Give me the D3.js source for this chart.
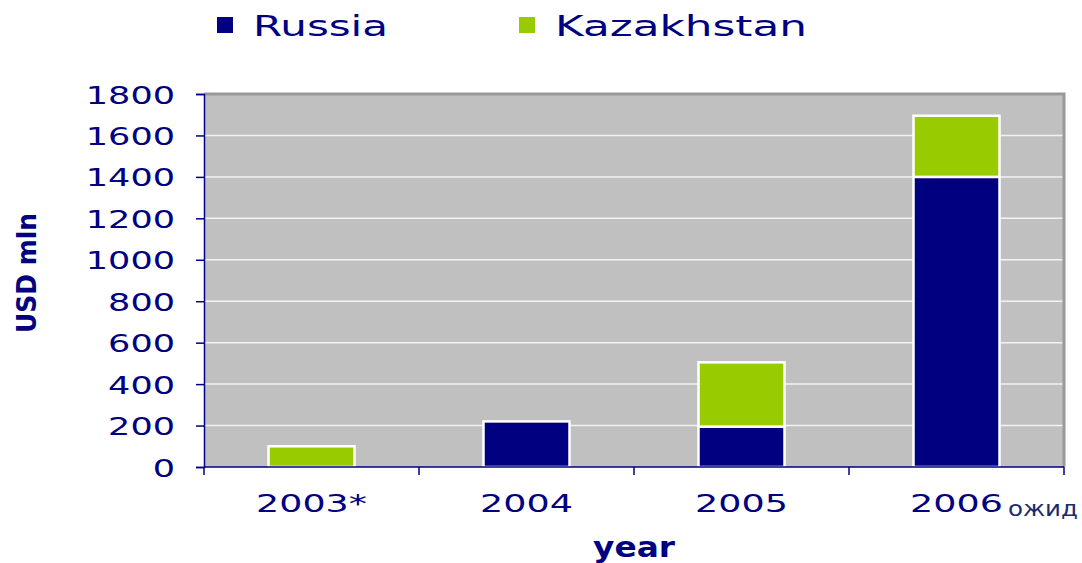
<!DOCTYPE html>
<html>
<head>
<meta charset="utf-8">
<script src="https://cdn.jsdelivr.net/npm/d3@7"></script>
<style>
  body { margin: 0; background: #fff; }
  text { font-family: "DejaVu Sans", Verdana, sans-serif; }
</style>
</head>
<body>
<svg id="chart" width="1082" height="563"></svg>
<script>
"use strict";

// chart data
const years = ["2003*", "2004", "2005", "2006"];
const russia = [0, 220, 195, 1400];
const kazakhstan = [100, 0, 310, 295];
const seriesNames = ["Russia", "Kazakhstan"];
const yTicks = [0, 200, 400, 600, 800, 1000, 1200, 1400, 1600, 1800];

const colors = { Russia: "#000080", Kazakhstan: "#99cc00" };
const navy = "#000080";

let svg = d3.select("#chart");

let margin = { left: 204, right: 18, top: 94, bottom: 96 };
let width = 1082 - margin.left - margin.right;
let height = 563 - margin.top - margin.bottom;

let x = d3.scaleBand()
    .domain(years)
    .range([margin.left, margin.left + width])
    .paddingInner(0.6)
    .paddingOuter(0.3);

let y = d3.scaleLinear()
    .domain([0, 1800])
    .range([margin.top + height, margin.top]);

// plot background
svg.append("rect")
    .attr("x", margin.left)
    .attr("y", margin.top)
    .attr("width", width)
    .attr("height", height)
    .style("fill", "#c0c0c0");

// grid lines
svg.append("g")
    .selectAll("line")
    .data(yTicks.filter(d => d > 0 && d < 1800))
    .enter().append("line")
    .attr("x1", margin.left)
    .attr("x2", margin.left + width)
    .attr("y1", d => y(d))
    .attr("y2", d => y(d))
    .style("stroke", "#f2f2f2")
    .style("stroke-width", 1.5);

// top and right plot border (gray)
svg.append("path")
    .attr("d", `M${margin.left},${margin.top}H${margin.left + width}V${margin.top + height}`)
    .style("fill", "none")
    .style("stroke", "#999999")
    .style("stroke-width", 3);

// stacked bars
let rows = years.map((yr, i) => ({ year: yr, Russia: russia[i], Kazakhstan: kazakhstan[i] }));
let stack = d3.stack().keys(seriesNames)(rows);

svg.append("g")
    .selectAll("g")
    .data(stack)
    .enter().append("g")
    .style("fill", d => colors[d.key])
    .selectAll("rect")
    .data(d => d.filter(p => p[1] - p[0] > 0))
    .enter().append("rect")
    .attr("x", d => x(d.data.year))
    .attr("y", d => y(d[1]))
    .attr("width", x.bandwidth())
    .attr("height", d => y(d[0]) - y(d[1]))
    .style("stroke", "#ffffff")
    .style("stroke-width", 2.5);

// y axis
let yAxis = d3.axisLeft(y)
    .tickValues(yTicks)
    .tickSize(8)
    .tickFormat(d3.format("d"));

let yAxisG = svg.append("g")
    .attr("transform", `translate(${margin.left},0)`)
    .call(yAxis);

yAxisG.select(".domain").style("stroke", navy).style("stroke-width", 1.5);
yAxisG.selectAll(".tick line").style("stroke", navy).style("stroke-width", 1.5);
yAxisG.selectAll(".tick text")
    .attr("x", -29)
    .attr("dy", "0.36em")
    .style("font-size", "25px")
    .style("fill", navy)
    .attr("textLength", d => String(d).length * 22.3)
    .attr("lengthAdjust", "spacingAndGlyphs");

// x axis with ticks at category boundaries
let boundaries = d3.range(years.length + 1).map(i => margin.left + i * width / years.length);
let xAxisG = svg.append("g");

xAxisG.append("line")
    .attr("x1", margin.left)
    .attr("x2", margin.left + width)
    .attr("y1", y(0))
    .attr("y2", y(0))
    .style("stroke", navy)
    .style("stroke-width", 1.5);

xAxisG.selectAll(".xtick")
    .data(boundaries)
    .enter().append("line")
    .attr("class", "xtick")
    .attr("x1", d => d)
    .attr("x2", d => d)
    .attr("y1", y(0))
    .attr("y2", y(0) + 8)
    .style("stroke", navy)
    .style("stroke-width", 1.5);

xAxisG.selectAll(".xlabel")
    .data(years)
    .enter().append("text")
    .attr("class", "xlabel")
    .attr("x", d => x(d) + x.bandwidth() / 2)
    .attr("y", 512)
    .attr("text-anchor", "middle")
    .style("font-size", "25px")
    .style("fill", navy)
    .attr("textLength", d => d.replace("*", "").length * 23.2 + (d.includes("*") ? 18 : 0))
    .attr("lengthAdjust", "spacingAndGlyphs")
    .text(d => d);

// "ожид" suffix after 2006
svg.append("text")
    .attr("x", 1008)
    .attr("y", 516)
    .style("font-size", "21px")
    .style("fill", "#1a2a6c")
    .attr("textLength", 70)
    .attr("lengthAdjust", "spacingAndGlyphs")
    .text("ожид");

// axis titles
svg.append("text")
    .attr("x", 634)
    .attr("y", 557)
    .attr("text-anchor", "middle")
    .style("font-size", "28px")
    .style("font-weight", "bold")
    .style("fill", navy)
    .attr("textLength", 82)
    .attr("lengthAdjust", "spacingAndGlyphs")
    .text("year");

svg.append("text")
    .attr("transform", "translate(36,273) rotate(-90)")
    .attr("text-anchor", "middle")
    .style("font-size", "26px")
    .style("font-weight", "bold")
    .style("fill", navy)
    .attr("textLength", 120)
    .attr("lengthAdjust", "spacingAndGlyphs")
    .text("USD mln");

// legend
let legendItems = [
    { name: "Russia", x: 217, w: 135 },
    { name: "Kazakhstan", x: 519, w: 252 }
];

let legend = svg.append("g")
    .selectAll("g")
    .data(legendItems)
    .enter().append("g")
    .attr("transform", d => `translate(${d.x},0)`);

legend.append("rect")
    .attr("x", 0)
    .attr("y", 17)
    .attr("width", 16)
    .attr("height", 16)
    .style("fill", d => colors[d.name]);

legend.append("text")
    .attr("x", 36)
    .attr("y", 36)
    .style("font-size", "29px")
    .style("fill", navy)
    .attr("textLength", d => d.w)
    .attr("lengthAdjust", "spacingAndGlyphs")
    .text(d => d.name);
</script>
</body>
</html>
